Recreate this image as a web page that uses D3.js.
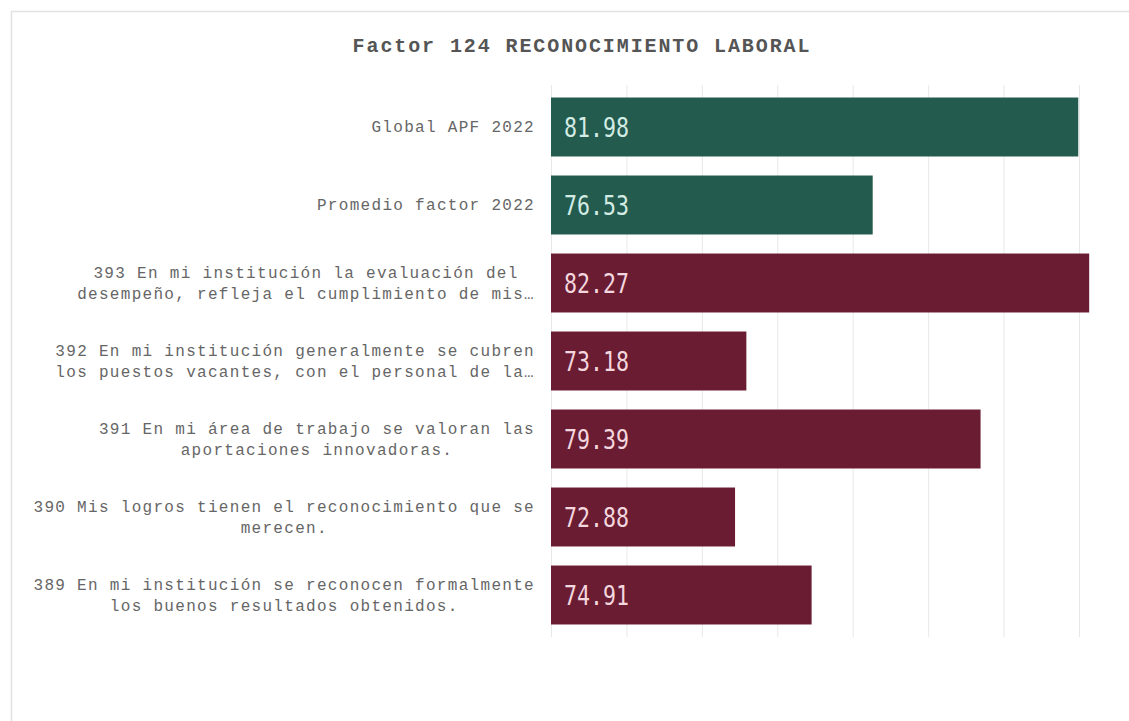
<!DOCTYPE html>
<html>
<head>
<meta charset="utf-8">
<script src="https://cdn.jsdelivr.net/npm/d3@7"></script>
<style>
  html, body { margin: 0; padding: 0; background: #ffffff; }
  svg { display: block; }
</style>
</head>
<body>
<svg id="chart" width="1129" height="721"></svg>
<script>
// Chart data
const title = "Factor 124 RECONOCIMIENTO LABORAL";
const categories = [
  "Global APF 2022",
  "Promedio factor 2022",
  "393 En mi institución la evaluación del desempeño, refleja el cumplimiento de mis…",
  "392 En mi institución generalmente se cubren los puestos vacantes, con el personal de la…",
  "391 En mi área de trabajo se valoran las aportaciones innovadoras.",
  "390 Mis logros tienen el reconocimiento que se merecen.",
  "389 En mi institución se reconocen formalmente los buenos resultados obtenidos."
];
const values = [81.98, 76.53, 82.27, 73.18, 79.39, 72.88, 74.91];
const groups = ["ref", "ref", "item", "item", "item", "item", "item"];
const gridTicks = [68, 70, 72, 74, 76, 78, 80, 82];

const barColor = { ref: "#235b4e", item: "#691c32" };
const valueColor = { ref: "#d3ece4", item: "#f3d6de" };

const svg = d3.select("#chart");

// card outline
svg.append("rect")
  .attr("x", 11.5).attr("y", 11.5)
  .attr("width", 1200).attr("height", 800)
  .attr("fill", "none")
  .attr("stroke", "#e2e2e2")
  .attr("stroke-width", 1.5);

// title
svg.append("text")
  .attr("x", 582).attr("y", 52)
  .attr("text-anchor", "middle")
  .attr("font-family", "'Liberation Mono', 'Courier New', monospace")
  .attr("font-weight", "bold")
  .attr("font-size", 20)
  .attr("letter-spacing", 1.9)
  .attr("fill", "#555555")
  .text(title);

const x = d3.scaleLinear().domain([68, 82]).range([551, 1079]);
const y = d3.scaleBand()
  .domain(d3.range(categories.length))
  .range([88, 634])
  .paddingInner(0.244)
  .paddingOuter(0.122);

// vertical grid lines
svg.append("g")
  .selectAll("line")
  .data(gridTicks)
  .join("line")
  .attr("x1", d => x(d) + 0.5).attr("x2", d => x(d) + 0.5)
  .attr("y1", 85).attr("y2", 637)
  .attr("stroke", "#e8e8e8")
  .attr("stroke-width", 1);

// bars
svg.append("g")
  .selectAll("rect")
  .data(values)
  .join("rect")
  .attr("x", x(68))
  .attr("y", (d, i) => y(i))
  .attr("width", d => x(d) - x(68))
  .attr("height", y.bandwidth())
  .attr("fill", (d, i) => barColor[groups[i]]);

// value labels inside bars
svg.append("g")
  .selectAll("text")
  .data(values)
  .join("text")
  .attr("transform", (d, i) => `translate(${x(68) + 13},${y(i) + y.bandwidth() / 2 + 9.5}) scale(0.83,1)`)
  .attr("font-family", "'DejaVu Sans Mono', monospace")
  .attr("font-size", 26)
  .attr("fill", (d, i) => valueColor[groups[i]])
  .text(d => d.toFixed(2));

// category labels: wrapped to two lines, block right-aligned, lines centred
function wrap(label, maxChars) {
  const words = label.split(" ");
  const lines = [];
  let cur = "";
  words.forEach(w => {
    const next = cur ? cur + " " + w : w;
    if (next.length > maxChars && cur) { lines.push(cur); cur = w; }
    else cur = next;
  });
  if (cur) lines.push(cur);
  return lines;
}

const labelRight = 535;
const lineH = 21;
const labelG = svg.append("g");
categories.forEach((label, i) => {
  const lines = wrap(label, 46);
  const g = labelG.append("g");
  const cy = y(i) + y.bandwidth() / 2;
  const texts = lines.map((ln, k) => g.append("text")
    .attr("y", cy + (k - (lines.length - 1) / 2) * lineH + 5)
    .attr("text-anchor", "middle")
    .attr("font-family", "'Liberation Mono', 'Courier New', monospace")
    .attr("font-size", 16)
    .attr("letter-spacing", 1.3)
    .attr("fill", "#666666")
    .text(ln));
  const widths = texts.map(t => t.node().getComputedTextLength());
  const blockW = d3.max(widths);
  texts.forEach(t => t.attr("x", labelRight - blockW / 2));
});
</script>
</body>
</html>
